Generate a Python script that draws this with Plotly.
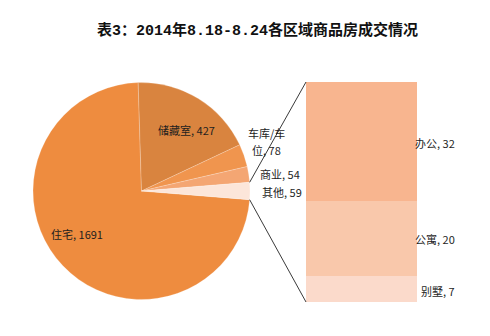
import math
import plotly.graph_objects as go

# Main pie: residential transaction counts by category
pie_labels = ["住宅", "储藏室", "车库/车位", "商业", "其他"]
pie_values = [1691, 427, 78, 54, 59]
pie_colors = ["#EE8C3F", "#D9843F", "#F0954E", "#F4A673", "#FCE6DA"]

# Breakdown of "其他" into a stacked column (top to bottom)
bar_labels = ["办公", "公寓", "别墅"]
bar_values = [32, 20, 7]
bar_colors = ["#F8B58F", "#F9C8AB", "#FBDACB"]

title_text = "表3：2014年8.18-8.24各区域商品房成交情况"

W, H = 490, 336


def px(x):
    return x / W


def py(y):
    return 1 - y / H


# Pie geometry in pixels
cx, cy, r = 141.5, 191.0, 108.5
total = sum(pie_values)
other_half = pie_values[-1] / total * 360 / 2

# Column geometry in pixels
bx0, bx1, by_top, by_bot = 306, 417, 82, 302

fig = go.Figure()

fig.add_trace(go.Pie(
    labels=pie_labels,
    values=pie_values,
    sort=False,
    direction="clockwise",
    rotation=90 + other_half,
    marker=dict(colors=pie_colors, line=dict(color="rgba(255,255,255,0.35)", width=0.6)),
    textinfo="none",
    hoverinfo="label+value",
    showlegend=False,
    domain=dict(x=[px(cx - r), px(cx + r)], y=[py(cy + r), py(cy - r)]),
))

# Stacked column: bottom segment first
for name, val, col in reversed(list(zip(bar_labels, bar_values, bar_colors))):
    fig.add_trace(go.Bar(
        x=[0], y=[val], width=1, name=name,
        marker=dict(color=col, line=dict(width=0)),
        showlegend=False, hoverinfo="name+y",
        xaxis="x", yaxis="y",
    ))

# Connector lines from the "其他" slice edges to the column corners
a = math.radians(other_half)
ux, uy = cx + r * math.cos(a), cy - r * math.sin(a)
lx, ly = cx + r * math.cos(a), cy + r * math.sin(a)

shapes = [
    dict(type="line", xref="paper", yref="paper",
         x0=px(ux), y0=py(uy), x1=px(bx0), y1=py(by_top),
         line=dict(color="#3a3a3a", width=1)),
    dict(type="line", xref="paper", yref="paper",
         x0=px(lx), y0=py(ly), x1=px(bx0), y1=py(by_bot),
         line=dict(color="#3a3a3a", width=1)),
]

label_font = dict(family="Noto Sans CJK SC, sans-serif", size=11, color="#1e1e1e")

# Label anchor points (pixels); long labels wrap onto two lines
pie_label_pos = {
    "住宅": [(77, 234)],
    "储藏室": [(186, 130)],
    "车库/车位": [(266, 133), (266, 150)],
    "商业": [(280, 174)],
    "其他": [(282, 192)],
}


def label_lines(name, val):
    text = f"{name}, {val}"
    if len(name) > 3:
        return [name[:4], name[4:] + f", {val}"]
    return [text]


annotations = []
for name, val in zip(pie_labels, pie_values):
    for (x, y), line in zip(pie_label_pos[name], label_lines(name, val)):
        annotations.append(dict(
            x=px(x), y=py(y), xref="paper", yref="paper",
            text=line, showarrow=False,
            xanchor="center", yanchor="middle", align="center",
            font=label_font,
        ))

bar_label_y = {"办公": 143, "公寓": 239, "别墅": 291}
for name, val in zip(bar_labels, bar_values):
    annotations.append(dict(
        x=px(457), y=py(bar_label_y[name]), xref="paper", yref="paper",
        text=f"{name}, {val}", showarrow=False,
        xanchor="right", yanchor="middle",
        font=label_font,
    ))

annotations.append(dict(
    x=px(257), y=py(30), xref="paper", yref="paper",
    text=f"<b>{title_text}</b>", showarrow=False,
    xanchor="center", yanchor="middle",
    font=dict(family="Liberation Mono, Noto Sans CJK SC, monospace", size=15, color="#111111"),
))

fig.update_layout(
    width=W, height=H,
    margin=dict(l=0, r=0, t=0, b=0),
    paper_bgcolor="white",
    plot_bgcolor="white",
    barmode="stack",
    bargap=0,
    xaxis=dict(domain=[px(bx0), px(bx1)], range=[-0.5, 0.5], visible=False, fixedrange=True),
    yaxis=dict(domain=[py(by_bot), py(by_top)], range=[0, sum(bar_values)], visible=False, fixedrange=True),
    shapes=shapes,
    annotations=annotations,
)

fig.write_html("out.html")
